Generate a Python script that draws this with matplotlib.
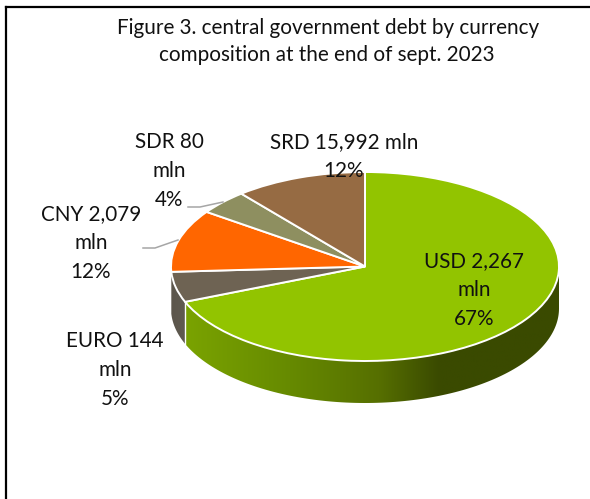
import numpy as np
import matplotlib
matplotlib.use("Agg")
import matplotlib.pyplot as plt
from matplotlib.colors import LinearSegmentedColormap
from matplotlib.lines import Line2D
from matplotlib.patches import PathPatch
from matplotlib.path import Path

plt.rcParams['font.family'] = ['Lato', 'DejaVu Sans']

W, H = 590, 499

# pie geometry in pixels
CX, CY = 365, 266.5
RX, RY = 194, 94.5
DEPTH = 42

title_lines = ["Figure 3. central government debt by currency",
               "composition at the end of sept. 2023"]
currencies = ["USD", "EURO", "CNY", "SDR", "SRD"]
amounts = ["2,267", "144", "2,079", "80", "15,992"]
percent_labels = ["67%", "5%", "12%", "4%", "12%"]
# drawn slice sizes as seen in the picture (perspective makes them differ from the labels)
slice_sizes = [68.9, 5.2, 10.7, 4.2, 11.0]
top_colors = ["#92c400", "#6e6353", "#ff6600", "#8e8f60", "#966b43"]


def px(x, y):
    return (x - CX) / RX, (CY - y) / RY


fig = plt.figure(figsize=(W / 100, H / 100), dpi=100, facecolor="white")
ax = fig.add_axes([0, 0, 1, 1])

wedges, _ = ax.pie(slice_sizes, colors=top_colors, startangle=90, counterclock=False,
                   wedgeprops=dict(edgecolor="white", linewidth=1.4))
for w in wedges:
    w.set_zorder(3)
ax.set_aspect("auto")

# side of the pie, only the front part is visible
edges = np.cumsum([0] + slice_sizes) / sum(slice_sizes) * 360
depth = DEPTH / RY


def rim(a0, a1, stops):
    t = np.radians(np.linspace(a0, a1, 120))
    xs, ys = np.sin(t), np.cos(t)
    verts = list(zip(xs, ys)) + list(zip(xs[::-1], ys[::-1] - depth))
    path = Path(verts + [verts[0]], closed=True)
    patch = PathPatch(path, facecolor="none", edgecolor="none", transform=ax.transData)
    ax.add_patch(patch)
    cmap = LinearSegmentedColormap.from_list("rim", stops)
    img = ax.imshow(np.linspace(0, 1, 256).reshape(1, -1), cmap=cmap, aspect="auto",
                    extent=(xs.min(), xs.max(), ys.min() - depth, ys.max()), zorder=1)
    img.set_clip_path(patch)


rim(90, edges[1], [(0, "#7aa300"), (0.28, "#668a00"), (0.52, "#566f00"),
                   (0.68, "#3a4a00"), (1, "#3a4a00")])
rim(edges[1], edges[2], ["#5c564c", "#5f5a50"])
ax.set_xlim(px(0, 0)[0], px(W, 0)[0])
ax.set_ylim(px(0, H)[1], px(0, 0)[1])

# white seam between the USD and EURO sides
seam = np.radians(edges[1])
ax.plot([np.sin(seam)] * 2, [np.cos(seam), np.cos(seam) - depth], color="white", lw=1.0, zorder=2)

# leader lines
for line_x, line_y in [([188, 200, 223], [207, 207, 202]), ([143, 155, 178], [248, 248, 240])]:
    fig.add_artist(Line2D(np.array(line_x) / W, 1 - np.array(line_y) / H, color="#a6a6a6", lw=1.1))

# frame, only top and left are there
fig.add_artist(Line2D([6 / W, 6 / W], [0, 1 - 7 / H], color="black", lw=1.6))
fig.add_artist(Line2D([5.5 / W, 1], [1 - 7 / H, 1 - 7 / H], color="black", lw=1.6))


def put_text(x, y, s, size=14.9):
    fig.text(x / W, 1 - y / H, s, ha="center", va="center", fontsize=size, color="#111111", zorder=5)


put_text(328, 28, title_lines[0])
put_text(327, 55, title_lines[1])

label_pos = [(474, [261, 290, 319]), (115, [341, 370, 399]), (91, [214, 243, 272]),
             (169, [142, 171, 200]), (344, [142, 171])]
for i, (x, ys) in enumerate(label_pos):
    if len(ys) == 3:
        lines = [f"{currencies[i]} {amounts[i]}", "mln", percent_labels[i]]
    else:
        lines = [f"{currencies[i]} {amounts[i]} mln", percent_labels[i]]
    for y, s in zip(ys, lines):
        put_text(x, y, s)

fig.savefig("out.png", dpi=100)
